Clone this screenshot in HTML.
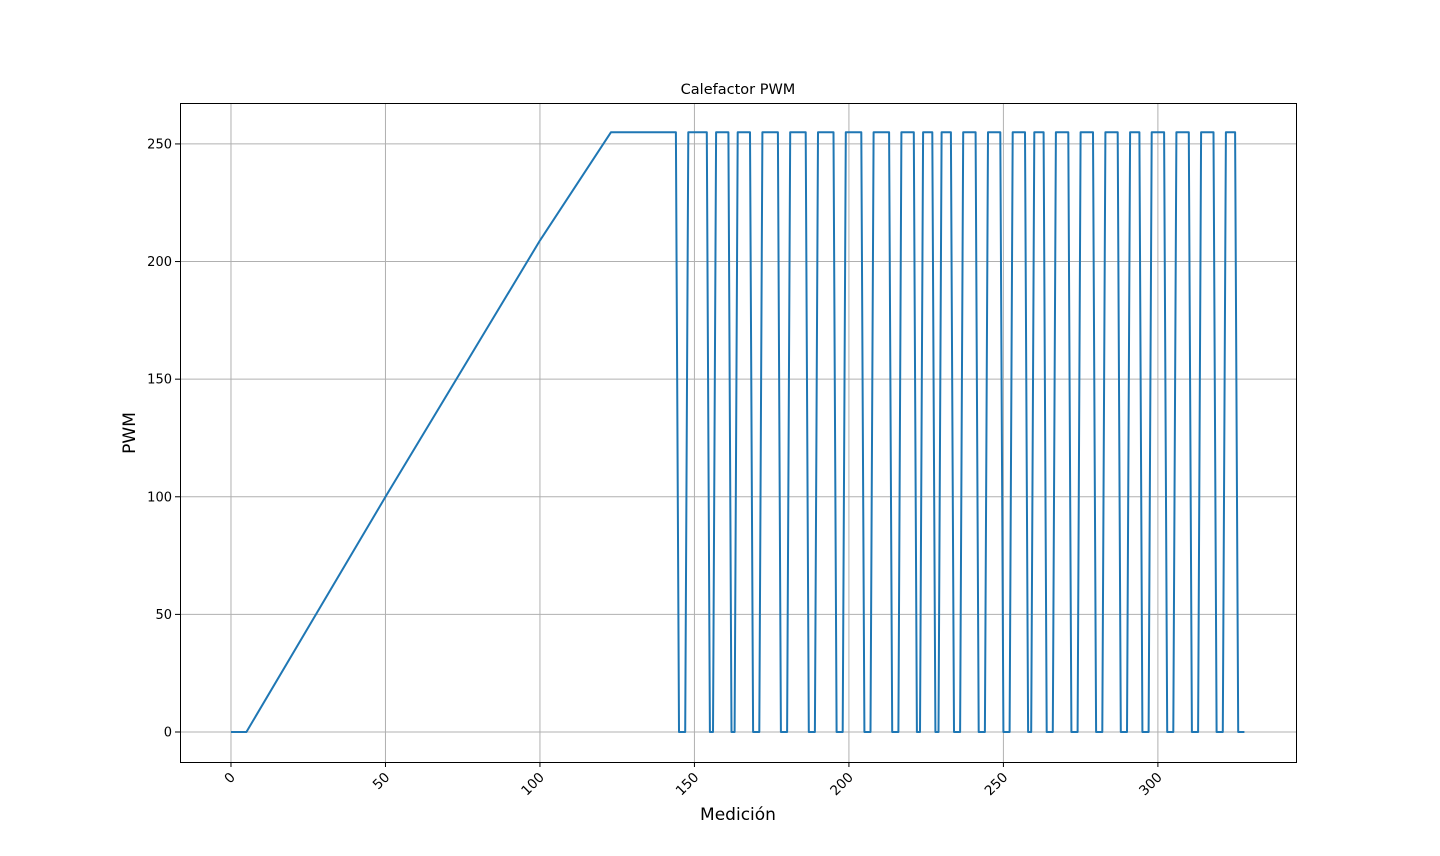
<!DOCTYPE html>
<html><head><meta charset="utf-8"><style>
body{margin:0;background:#fff}
svg{display:block;font-family:"DejaVu Sans","Liberation Sans",sans-serif}
</style></head><body>
<svg id="chart" width="1440" height="856" viewBox="0 0 1440 856" xmlns="http://www.w3.org/2000/svg">
<rect width="1440" height="856" fill="#fff"/>
<g id="grid"></g>
<g id="series"></g>
<rect x="180.5" y="103.5" width="1116" height="659" fill="none" stroke="#000" stroke-width="1"/>
<g id="ticks"></g>
<text x="738" y="94" font-size="14.5" text-anchor="middle">Calefactor PWM</text>
<text x="738" y="820" font-size="17" text-anchor="middle">Medición</text>
<text x="0" y="0" font-size="17" text-anchor="middle" transform="translate(135,433) rotate(-90)">PWM</text>
</svg>
<script>
const xTicks=[0,50,100,150,200,250,300];
const yTicks=[0,50,100,150,200,250];
const rampX=[0,5,50,100,123,144];
const rampY=[0,0,100,209,255,255];
const waveX=[145,147,148,154,155,156,157,161,162,163,164,168,169,171,172,177,178,180,181,186,187,189,190,195,196,198,199,204,205,207,208,213,214,216,217,221,222,223,224,227,228,229,230,233,234,236,237,241,242,244,245,249,250,252,253,257,258,259,260,263,264,266,267,271,272,274,275,279,280,282,283,287,288,290,291,294,295,297,298,302,303,305,306,310,311,313,314,318,319,321,322,325,326,328];
const waveY=[0,0,255,255,0,0,255,255,0,0,255,255,0,0,255,255,0,0,255,255,0,0,255,255,0,0,255,255,0,0,255,255,0,0,255,255,0,0,255,255,0,0,255,255,0,0,255,255,0,0,255,255,0,0,255,255,0,0,255,255,0,0,255,255,0,0,255,255,0,0,255,255,0,0,255,255,0,0,255,255,0,0,255,255,0,0,255,255,0,0,255,255,0,0];
const NS='http://www.w3.org/2000/svg';
const L=180,R=1296,T=103,B=762,xMin=-16.5,xMax=344.7,yMin=-12.75,yMax=267.4;
const xs=v=>L+(v-xMin)/(xMax-xMin)*(R-L);
const ys=v=>B-(v-yMin)/(yMax-yMin)*(B-T);
const grid=document.getElementById('grid'),ticks=document.getElementById('ticks'),series=document.getElementById('series');
function mk(tag,attrs,parent){const e=document.createElementNS(NS,tag);for(const k in attrs)e.setAttribute(k,attrs[k]);parent.appendChild(e);return e;}
xTicks.forEach(t=>{const x=xs(t);
 const g=mk('line',{x1:x,x2:x,y1:T,y2:B,stroke:'#b0b0b0','stroke-width':1},grid);
 
 
 const tk=mk('line',{x1:x,x2:x,y1:B,y2:B+5,stroke:'#000'},ticks);
 
 
 const tx=mk('text',{x:0,y:0,'font-size':13.5,'text-anchor':'end',transform:`translate(${x+5},${B+16}) rotate(-45)`},ticks);
 tx.textContent=t;
 
 
});
yTicks.forEach(t=>{const y=ys(t);
 const g=mk('line',{x1:L,x2:R,y1:y,y2:y,stroke:'#b0b0b0','stroke-width':1},grid);
 
 
 const tk=mk('line',{x1:L-5,x2:L,y1:y,y2:y,stroke:'#000'},ticks);
 
 
 const tx=mk('text',{x:L-8,y:y+4.5,'font-size':13,'text-anchor':'end'},ticks);
 tx.textContent=t;
 
 
});
const X=rampX.concat(waveX),Y=rampY.concat(waveY);
const d=X.map((v,i)=>(i?'L':'M')+xs(v).toFixed(1)+' '+ys(Y[i]).toFixed(1)).join(' ');
const p=mk('path',{d:d,fill:'none',stroke:'#1f77b4','stroke-width':2,'stroke-linejoin':'round'},series);


</script>
</body></html>
